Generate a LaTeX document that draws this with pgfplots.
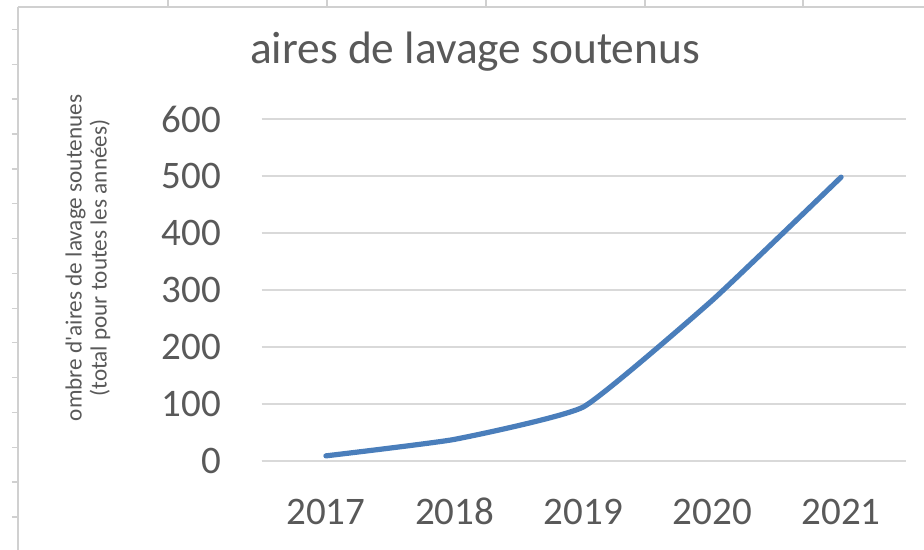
\documentclass[border=0pt]{standalone}
\usepackage{pgfplots}
\pgfplotsset{compat=1.18}
\usepackage{fontspec}
\setmainfont{Carlito}
\definecolor{txt}{HTML}{595959}
\definecolor{gridc}{HTML}{D9D9D9}
\definecolor{linec}{HTML}{4A7EBB}
\definecolor{cell}{HTML}{D0D0D0}
\begin{document}
\begin{tikzpicture}
\begin{scope}[x=0.5pt,y=0.5pt,shift={(-130.75pt,-44.5pt)}]
\useasboundingbox (0,0) rectangle (924,550);
\fill[white] (0,0) rectangle (924,550);
% spreadsheet cell lines around the chart
\foreach \xx in {168,327,486,645,803} {\draw[cell, line width=0.6pt] (\xx,550) -- (\xx,543);}
\draw[cell, line width=0.8pt] (18,543) -- (924,543);
\draw[cell, line width=0.8pt] (18,0) -- (18,543);
\foreach \yy in {29.3,64.3,99,134,169,203.3,238.3,273.3,308.3,342.7,377.7,412.3,447.3,482,517} {\draw[cell, line width=0.6pt] (12,550-\yy) -- (18,550-\yy);}
\node[anchor=base, text=txt, inner sep=0pt, font=\fontsize{22.7}{24}\selectfont] at (475,486) {aires de lavage soutenus};
\node[rotate=90, align=center, text=txt, inner sep=0pt, font=\fontsize{11.6}{12.5}\selectfont] at (88,292) {ombre d\textquotesingle aires de lavage soutenues\\(total pour toutes les années)};
\end{scope}
\begin{axis}[
  scale only axis, width=322pt, height=171pt,
  xmin=0.5, xmax=5.5, ymin=0, ymax=600,
  xtick={1,2,3,4,5}, xticklabels={2017,2018,2019,2020,2021},
  ytick={0,100,200,300,400,500,600},
  ymajorgrids, grid style={gridc, line width=0.6pt},
  axis x line*=bottom, axis y line*=left,
  x axis line style={gridc, line width=0.6pt, -},
  y axis line style={draw=none},
  major tick length=0pt,
  tick style={draw=none},
  /pgf/number format/assume math mode=true,
  tick label style={font=\fontsize{19.5}{20}\selectfont, text=txt},
  yticklabel style={anchor=east, inner sep=0pt, xshift=-20pt},
  xticklabel style={anchor=base, inner sep=0pt, yshift=-32pt},
  clip=false,
]
\addplot[linec, line width=2.6pt, line cap=round, line join=round, smooth, tension=0.25] coordinates {(1,9) (2,38) (3,95) (4,282) (5,498)};
\end{axis}
\end{tikzpicture}
\end{document}
